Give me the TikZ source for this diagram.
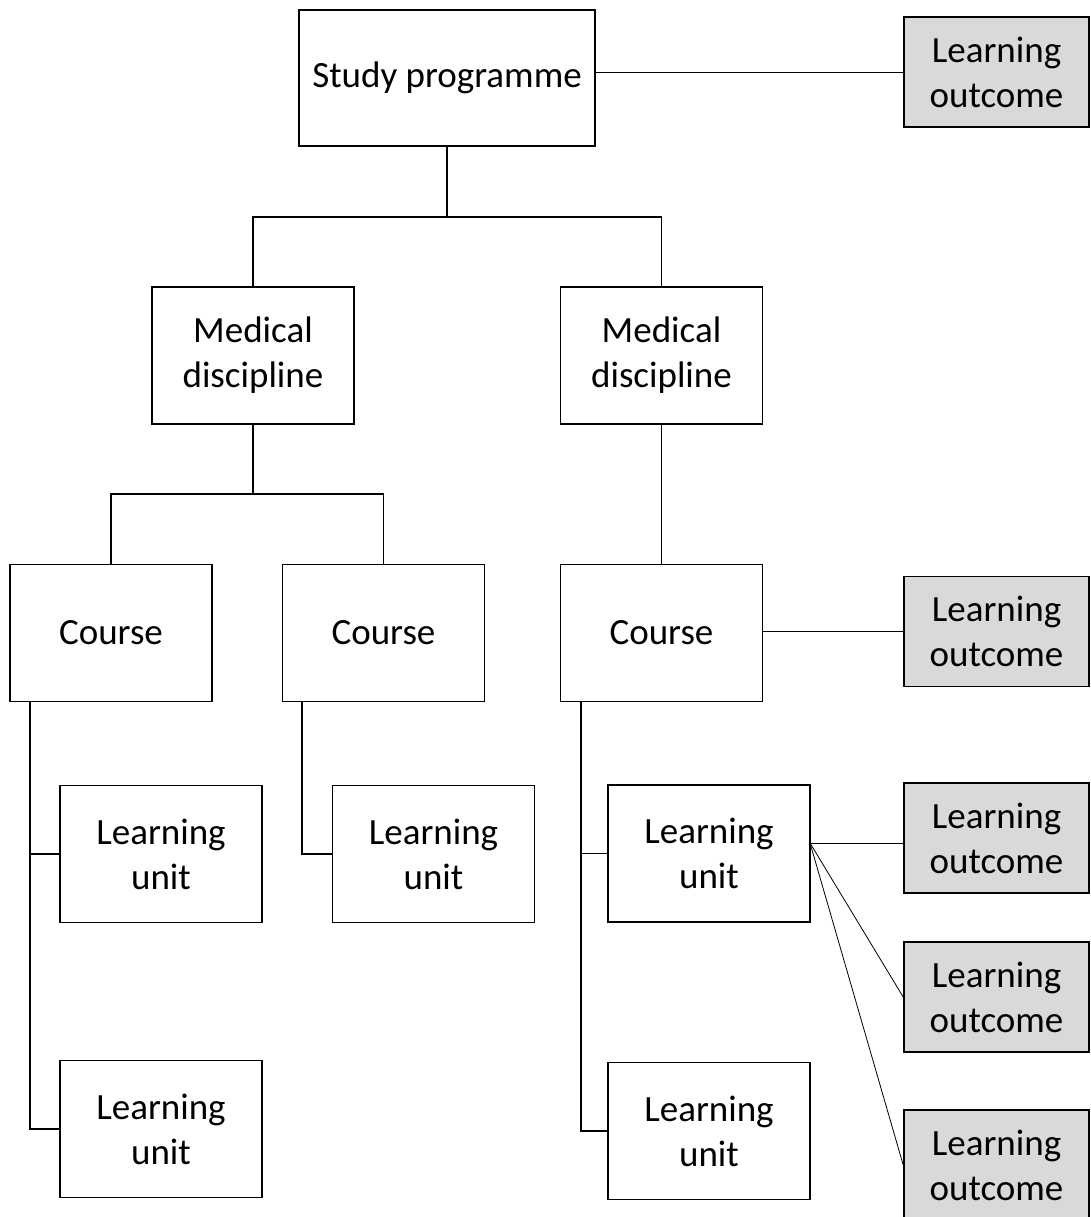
\documentclass[tikz,border=0pt]{standalone}
\usepackage{fontspec}
\setmainfont{Carlito}
\definecolor{logray}{HTML}{D9D9D9}
\tikzset{
  box/.style={draw=black, line width=1.6pt, fill=white, inner sep=0pt, align=center,
    font=\fontsize{37}{45}\selectfont},
  sp/.style={box, minimum width=296pt, minimum height=136pt},
  unitbox/.style={box, minimum width=202pt, minimum height=137pt},
  lo/.style={box, fill=logray, minimum width=185pt, minimum height=110pt},
  tree/.style={draw=black, line width=1.6pt},
  link/.style={draw=black, line width=0.8pt},
}
\begin{document}
\begin{tikzpicture}[x=1pt,y=-1pt]
\useasboundingbox (0,0) rectangle (1091,1217);
\clip (0,0) rectangle (1091,1217);
% nodes
\node[sp] (SP) at (447,78) {Study programme};
\node[lo] (LO1) at (996.5,72) {Learning\\outcome};
\node[unitbox] (MD1) at (253,355.5) {Medical\\discipline};
\node[unitbox] (MD2) at (661.5,355.5) {Medical\\discipline};
\node[unitbox] (C1) at (111,633) {Course};
\node[unitbox] (C2) at (383.5,633) {Course};
\node[unitbox] (C3) at (661.5,633) {Course};
\node[lo] (LO2) at (996.5,631.5) {Learning\\outcome};
\node[unitbox] (LU1) at (161,854) {Learning\\unit};
\node[unitbox] (LU2) at (433.5,854) {Learning\\unit};
\node[unitbox] (LU3) at (709,853.5) {Learning\\unit};
\node[unitbox] (LU4) at (161,1129) {Learning\\unit};
\node[unitbox] (LU5) at (709,1131) {Learning\\unit};
\node[lo] (LO3) at (996.5,838) {Learning\\outcome};
\node[lo] (LO4) at (996.5,997) {Learning\\outcome};
\node[lo] (LO5) at (996.5,1165) {Learning\\outcome};
% junction coordinates
\coordinate (j1) at (447,217);
\coordinate (j2) at (253,494);
\coordinate (r1) at (30,0);
\coordinate (r2) at (302,0);
\coordinate (r3) at (581,0);
\coordinate (f) at (810,843);
% tree connectors
\draw[tree] (SP.south) -- (j1);
\draw[tree] (MD1.north) |- (j1) -| (MD2.north);
\draw[tree] (MD1.south) -- (j2);
\draw[tree] (C1.north) |- (j2) -| (C2.north);
\draw[tree] (MD2.south) -- (C3.north);
\draw[tree] (C1.south -| r1) |- (LU4.west);
\draw[tree] (r1 |- LU1.west) -- (LU1.west);
\draw[tree] (C2.south -| r2) |- (LU2.west);
\draw[tree] (C3.south -| r3) |- (LU5.west);
\draw[tree] (r3 |- LU3.west) -- (LU3.west);
% outcome links
\draw[link] (SP.east |- LO1.west) -- (LO1.west);
\draw[link] (C3.east |- LO2.west) -- (LO2.west);
\draw[link] (f) -- (f -| LO3.west);
\draw[link] (f) -- (LO4.west);
\draw[link] (f) -- (LO5.west);
\end{tikzpicture}
\end{document}
